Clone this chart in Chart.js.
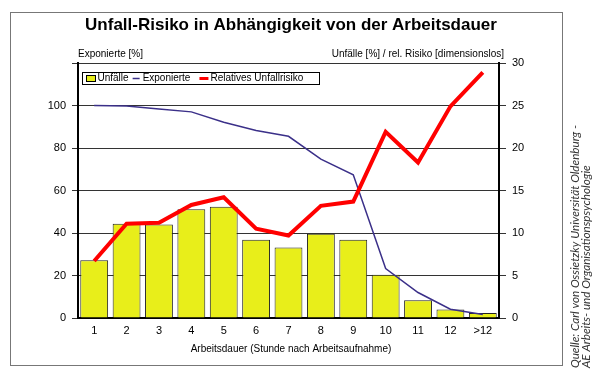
<!DOCTYPE html>
<html>
<head>
<meta charset="utf-8">
<script src="https://cdn.jsdelivr.net/npm/chart.js@4.4.1/dist/chart.umd.min.js"></script>
<style>
  html, body { margin: 0; padding: 0; background: #fff; }
  canvas { display: block; }
</style>
</head>
<body>
<canvas id="unfallChart" width="600" height="375"></canvas>
<script>
// Daten
const stunden = ['1', '2', '3', '4', '5', '6', '7', '8', '9', '10', '11', '12', '>12'];
const unfaelle = [6.8, 11.1, 11.0, 12.8, 13.1, 9.2, 8.3, 9.9, 9.2, 5.1, 2.1, 1.0, 0.6];
const exponierte = [100, 99.8, 98.4, 97.0, 92.1, 88.2, 85.5, 74.8, 67.4, 23.3, 12.0, 4.1, 1.7];
const relRisiko = [6.7, 11.1, 11.2, 13.3, 14.2, 10.5, 9.7, 13.2, 13.7, 21.9, 18.3, 24.9, 28.9];
const linkeTicks = [0, 120, 20];
const rechteTicks = [0, 30, 5];

const titel = 'Unfall-Risiko in Abhängigkeit von der Arbeitsdauer';
const linkerKopf = 'Exponierte [%]';
const rechterKopf = 'Unfälle [%] / rel. Risiko [dimensionslos]';
const xTitel = 'Arbeitsdauer (Stunde nach Arbeitsaufnahme)';
const quelle = ['Quelle: Carl von Ossietzky Universität Oldenburg -', 'AE Arbeits- und Organisationspsychologie'];

const FONT = '"Liberation Sans", Arial, sans-serif';

// Rahmen, Titel, Achsenköpfe, Legende und Quelle selbst zeichnen
const extrasPlugin = {
    id: 'extras',
    beforeDraw(chart) {
        const ctx = chart.ctx;
        ctx.save();
        ctx.fillStyle = '#fff';
        ctx.fillRect(0, 0, chart.width, chart.height);
        ctx.strokeStyle = '#777';
        ctx.lineWidth = 1;
        ctx.strokeRect(10.5, 12.5, 552, 353);
        ctx.restore();
    },
    afterDraw(chart) {
        const ctx = chart.ctx;
        const area = chart.chartArea;
        ctx.save();
        ctx.fillStyle = '#000';

        ctx.font = 'bold 17px ' + FONT;
        ctx.textAlign = 'center';
        ctx.textBaseline = 'middle';
        ctx.fillText(titel, 291, 25);

        ctx.font = '10px ' + FONT;
        ctx.textAlign = 'left';
        ctx.fillText(linkerKopf, area.left, 54);
        ctx.textAlign = 'right';
        ctx.fillText(rechterKopf, 504, 54);

        ctx.font = '10px ' + FONT;
        ctx.textAlign = 'center';
        ctx.fillText(xTitel, 291, 349);

        // Legende im Diagramm
        const ds = chart.data.datasets;
        const ly = 78.5;
        ctx.fillStyle = '#fff';
        ctx.fillRect(83, 73, 236, 11);
        ctx.strokeStyle = '#000';
        ctx.lineWidth = 1;
        ctx.strokeRect(82.5, 72.5, 237, 12);
        ctx.font = '10px ' + FONT;
        ctx.textAlign = 'left';
        let x = 86.5;
        ctx.fillStyle = ds[0].backgroundColor;
        ctx.fillRect(x, 75.5, 9, 6);
        ctx.strokeRect(x, 75.5, 9, 6);
        x += 11;
        ctx.fillStyle = '#000';
        ctx.fillText(ds[0].label, x, ly);
        x += ctx.measureText(ds[0].label).width + 4;
        ctx.strokeStyle = ds[1].borderColor;
        ctx.lineWidth = 1.5;
        ctx.beginPath(); ctx.moveTo(x, ly); ctx.lineTo(x + 7, ly); ctx.stroke();
        x += 10;
        ctx.fillText(ds[1].label, x, ly);
        x += ctx.measureText(ds[1].label).width + 9;
        ctx.strokeStyle = ds[2].borderColor;
        ctx.lineWidth = 3;
        ctx.beginPath(); ctx.moveTo(x, ly); ctx.lineTo(x + 9, ly); ctx.stroke();
        x += 11;
        ctx.fillText(ds[2].label, x, ly);

        // Quelle, gedreht
        ctx.translate(575, 368);
        ctx.rotate(-Math.PI / 2);
        ctx.fillStyle = '#333';
        ctx.font = 'italic 11.7px Lato, sans-serif';
        ctx.textAlign = 'left';
        ctx.fillText(quelle[0], 0, 0);
        ctx.fillText(quelle[1], 0, 11);
        ctx.restore();
    }
};

const ctx = document.getElementById('unfallChart').getContext('2d');
new Chart(ctx, {
    type: 'bar',
    data: {
        labels: stunden,
        datasets: [
            {
                type: 'bar',
                label: 'Unfälle',
                data: unfaelle,
                yAxisID: 'y1',
                backgroundColor: '#E8EE1A',
                borderColor: '#222',
                borderWidth: 1,
                categoryPercentage: 1,
                barPercentage: 0.86,
                order: 3
            },
            {
                type: 'line',
                label: 'Exponierte',
                data: exponierte,
                yAxisID: 'y',
                borderColor: '#3B3089',
                borderWidth: 1.5,
                pointRadius: 0,
                tension: 0,
                fill: false,
                order: 2
            },
            {
                type: 'line',
                label: 'Relatives Unfallrisiko',
                data: relRisiko,
                yAxisID: 'y1',
                borderColor: '#FF0000',
                borderWidth: 4,
                pointRadius: 0,
                tension: 0,
                fill: false,
                order: 1
            }
        ]
    },
    options: {
        responsive: false,
        animation: false,
        layout: { padding: { left: 0, right: 61, top: 63, bottom: 10 } },
        plugins: {
            legend: { display: false },
            title: { display: false },
            tooltip: { enabled: false }
        },
        scales: {
            x: {
                grid: { display: false, drawTicks: false },
                border: { display: true, color: '#000', width: 2 },
                ticks: { color: '#000', font: { family: FONT, size: 11 }, padding: 6, maxRotation: 0 },
                afterFit: s => { s.height = 47; }
            },
            y: {
                position: 'left',
                min: linkeTicks[0],
                max: linkeTicks[1],
                grid: { color: '#333', lineWidth: 1, tickLength: 6 },
                border: { display: true, color: '#000', width: 2 },
                ticks: {
                    stepSize: linkeTicks[2],
                    color: '#000',
                    font: { family: FONT, size: 11 },
                    padding: 6,
                    callback: v => v === linkeTicks[1] ? '' : v
                },
                afterFit: s => { s.width = 78; }
            },
            y1: {
                position: 'right',
                min: rechteTicks[0],
                max: rechteTicks[1],
                grid: { drawOnChartArea: false, color: '#333', tickLength: 7 },
                border: { display: true, color: '#000', width: 2 },
                ticks: {
                    stepSize: rechteTicks[2],
                    color: '#000',
                    font: { family: FONT, size: 11 },
                    padding: 6
                },
                afterFit: s => { s.width = 40; }
            }
        }
    },
    plugins: [extrasPlugin]
});
</script>
</body>
</html>
